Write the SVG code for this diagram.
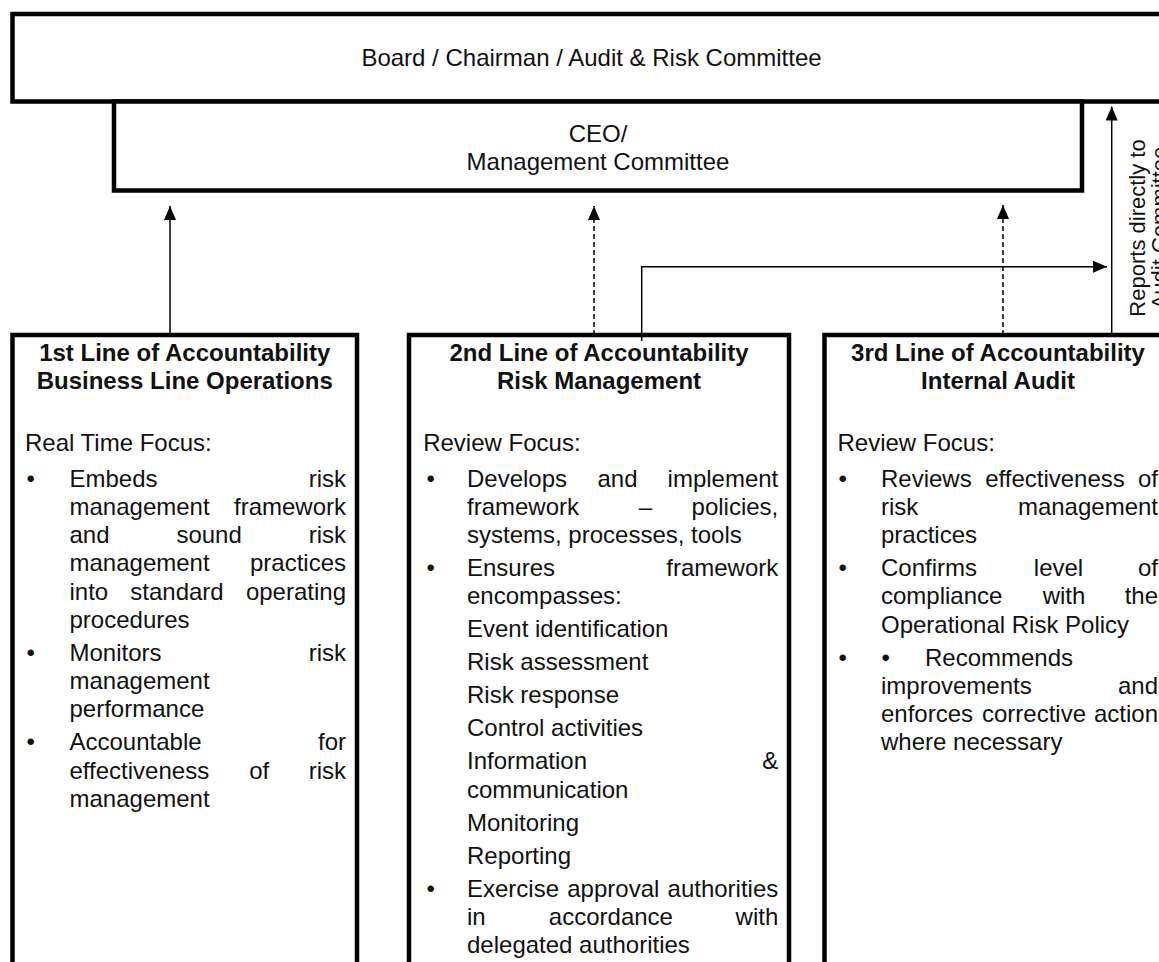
<svg xmlns="http://www.w3.org/2000/svg" width="1159" height="962" viewBox="0 0 1159 962">
<style>
text{font-family:"Liberation Sans",Arial,Helvetica,sans-serif;font-size:24px;fill:#111}
.b{font-weight:bold;text-anchor:middle}
.c{text-anchor:middle}
.m{text-anchor:middle}
.e{text-anchor:end}
.box{fill:#fff;stroke:#000;stroke-width:4.5}
.ln{fill:none;stroke:#000;stroke-width:1.5}
.dash{stroke-dasharray:5 3}
.rot{font-size:22px;text-anchor:middle}
</style>
<defs>
<marker id="ah" viewBox="0 0 14 12" refX="14" refY="6" markerWidth="14" markerHeight="12" markerUnits="userSpaceOnUse" orient="auto">
<path d="M0,0 L14,6 L0,12 z" fill="#000"/>
</marker>
</defs>
<rect width="1159" height="962" fill="#fff"/>

<g id="board">
<rect class="box" x="12.5" y="14" width="1159" height="87.5"/>
<text class="c" x="591.5" y="66">Board / Chairman / Audit &amp; Risk Committee</text>
</g>

<g id="ceo">
<rect class="box" x="114" y="101.5" width="968" height="89"/>
<text class="c" x="598" y="141.7">CEO/</text>
<text class="c" x="598" y="170">Management Committee</text>
</g>

<g id="line1">
<rect class="box" x="12.5" y="335" width="344.5" height="700"/>
<text class="b" x="184.75" y="360.7">1st Line of Accountability</text>
<text class="b" x="184.75" y="389">Business Line Operations</text>
<text x="25" y="450.7">Real Time Focus:</text>
<text x="26.5" y="486.5">•</text>
<text x="69.5" y="486.5">Embeds</text><text class="e" x="346" y="486.5">risk</text>
<text x="69.5" y="514.75">management</text><text class="e" x="346" y="514.75">framework</text>
<text x="69.5" y="543">and</text><text class="m" x="209.1" y="543">sound</text><text class="e" x="346" y="543">risk</text>
<text x="69.5" y="571.25">management</text><text class="e" x="346" y="571.25">practices</text>
<text x="69.5" y="599.5">into</text><text class="m" x="177" y="599.5">standard</text><text class="e" x="346" y="599.5">operating</text>
<text x="69.5" y="627.75">procedures</text>
<text x="26.5" y="660.75">•</text>
<text x="69.5" y="660.75">Monitors</text><text class="e" x="346" y="660.75">risk</text>
<text x="69.5" y="689">management</text>
<text x="69.5" y="717.25">performance</text>
<text x="26.5" y="750.25">•</text>
<text x="69.5" y="750.25">Accountable</text><text class="e" x="346" y="750.25">for</text>
<text x="69.5" y="778.5">effectiveness</text><text class="m" x="259.2" y="778.5">of</text><text class="e" x="346" y="778.5">risk</text>
<text x="69.5" y="806.75">management</text>
</g>

<g id="line2">
<rect class="box" x="409" y="335" width="380" height="700"/>
<text class="b" x="599" y="360.7">2nd Line of Accountability</text>
<text class="b" x="599" y="389">Risk Management</text>
<text x="423.2" y="450.7">Review Focus:</text>
<text x="426.5" y="486.5">•</text>
<text x="467" y="486.5">Develops</text><text class="m" x="617.5" y="486.5">and</text><text class="e" x="778.3" y="486.5">implement</text>
<text x="467" y="514.75">framework</text><text class="m" x="645.5" y="514.75">–</text><text class="e" x="778.3" y="514.75">policies,</text>
<text x="467" y="543">systems, processes, tools</text>
<text x="426.5" y="576">•</text>
<text x="467" y="576">Ensures</text><text class="e" x="778.3" y="576">framework</text>
<text x="467" y="604.25">encompasses:</text>
<text x="467" y="637.25">Event identification</text>
<text x="467" y="670.25">Risk assessment</text>
<text x="467" y="703.25">Risk response</text>
<text x="467" y="736.25">Control activities</text>
<text x="467" y="769.25">Information</text><text class="e" x="778.3" y="769.25">&amp;</text>
<text x="467" y="797.5">communication</text>
<text x="467" y="830.5">Monitoring</text>
<text x="467" y="863.5">Reporting</text>
<text x="426.5" y="897">•</text>
<text x="467" y="897">Exercise</text><text class="m" x="613.3" y="897">approval</text><text class="e" x="778.3" y="897">authorities</text>
<text x="467" y="925">in</text><text class="m" x="610.9" y="925">accordance</text><text class="e" x="778.3" y="925">with</text>
<text x="467" y="953">delegated authorities</text>
</g>

<g id="line3">
<rect class="box" x="824.5" y="335" width="347" height="700"/>
<text class="b" x="998" y="360.7">3rd Line of Accountability</text>
<text class="b" x="998" y="389">Internal Audit</text>
<text x="837.5" y="450.7">Review Focus:</text>
<text x="838.5" y="486.5">•</text>
<text x="881" y="486.5">Reviews</text><text class="m" x="1055" y="486.5">effectiveness</text><text class="e" x="1158" y="486.5">of</text>
<text x="881" y="514.75">risk</text><text class="e" x="1158" y="514.75">management</text>
<text x="881" y="543">practices</text>
<text x="838.5" y="576">•</text>
<text x="881" y="576">Confirms</text><text class="m" x="1058.5" y="576">level</text><text class="e" x="1158" y="576">of</text>
<text x="881" y="604.25">compliance</text><text class="m" x="1064" y="604.25">with</text><text class="e" x="1158" y="604.25">the</text>
<text x="881" y="632.5">Operational Risk Policy</text>
<text x="838.5" y="665.5">•</text>
<text x="881.5" y="665.5">•</text><text x="925" y="665.5">Recommends</text>
<text x="881" y="693.75">improvements</text><text class="e" x="1158" y="693.75">and</text>
<text x="881" y="722">enforces</text><text class="m" x="1034" y="722">corrective</text><text class="e" x="1158" y="722">action</text>
<text x="881" y="750.25">where necessary</text>
</g>

<g id="connectors">
<path class="ln" d="M170,335 V206" marker-end="url(#ah)"/>
<path class="ln dash" d="M594,335 V206" marker-end="url(#ah)"/>
<path class="ln" d="M641.7,341 V266.7 H1107" marker-end="url(#ah)"/>
<path class="ln dash" d="M1003,335 V205" marker-end="url(#ah)"/>
<path class="ln" d="M1111.7,335 V106.5" marker-end="url(#ah)"/>
</g>

<g id="label-reports">
<g transform="translate(1145,228) rotate(-90)">
<text class="rot" x="0" y="0">Reports directly to</text>
<text class="rot" x="0" y="22">Audit Committee</text>
</g>
</g>
</svg>
